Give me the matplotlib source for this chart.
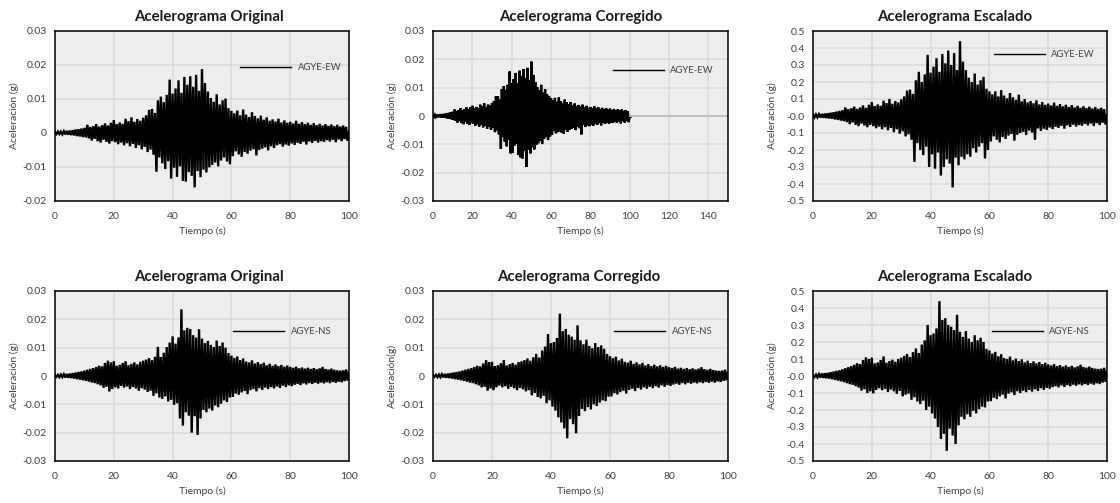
import numpy as np
import matplotlib
matplotlib.use("Agg")
import matplotlib.pyplot as plt
from matplotlib.ticker import FormatStrFormatter, FuncFormatter

plt.rcParams['font.family'] = ['Lato', 'DejaVu Sans']

# ---------------------------------------------------------------------------
# Data: peak acceleration per second (positive and negative excursions)
# Original / Corregido values in milli-g, Escalado values in g.
# ---------------------------------------------------------------------------
time_s = list(range(0, 101))

ew_original_pos_mg = [
    0.3, 0.4, 0.4, 0.5, 0.6, 0.7, 0.8, 1.0, 1.1, 1.3,
    1.5, 2.4, 1.8, 2.0, 2.6, 1.9, 2.3, 2.8, 2.2, 3.0,
    3.8, 2.6, 3.1, 2.7, 4.2, 3.5, 4.6, 3.3, 4.1, 3.6,
    4.5, 5.2, 6.8, 7.1, 5.9, 9.6, 10.7, 9.1, 11.2, 15.7,
    11.6, 13.1, 15.5, 11.8, 16.5, 14.2, 16.7, 13.6, 17.1, 12.4,
    18.8, 14.7, 12.2, 10.3, 9.2, 11.4, 8.4, 9.6, 10.1, 7.3,
    6.5, 5.8, 6.6, 5.2, 6.9, 5.4, 4.7, 6.1, 5.0, 4.3,
    5.1, 3.9, 4.6, 3.6, 4.0, 3.4, 4.2, 3.1, 3.7, 3.0,
    3.3, 2.8, 3.6, 2.7, 3.2, 2.6, 3.0, 2.4, 2.9, 2.3,
    2.7, 2.2, 2.6, 2.1, 2.5, 2.0, 2.4, 1.9, 2.2, 1.8,
    0.5]
ew_original_neg_mg = [
    -0.3, -0.3, -0.4, -0.4, -0.5, -0.6, -0.7, -0.9, -1.0, -1.2,
    -1.3, -1.6, -2.2, -1.7, -2.4, -2.8, -2.0, -2.6, -3.1, -2.4,
    -2.7, -3.3, -2.8, -3.6, -3.0, -3.9, -3.2, -4.4, -3.6, -4.8,
    -4.1, -5.6, -4.9, -6.4, -11.4, -7.2, -8.9, -10.6, -8.3, -13.4,
    -10.2, -12.9, -9.8, -14.1, -14.3, -11.5, -12.6, -16.0, -11.2, -13.0,
    -10.8, -11.6, -10.1, -9.4, -8.7, -9.8, -8.1, -7.2, -8.4, -9.2,
    -6.8, -5.4, -6.3, -7.0, -5.6, -6.1, -5.2, -4.8, -6.6, -5.0,
    -4.6, -4.2, -5.1, -3.9, -4.4, -3.6, -3.3, -4.0, -3.4, -3.7,
    -3.1, -3.5, -2.9, -3.2, -2.6, -3.4, -2.5, -2.9, -2.3, -2.8,
    -2.4, -2.6, -2.1, -2.5, -2.0, -2.7, -1.9, -2.4, -1.8, -2.3,
    -1.2]

ew_corregido_pos_mg = [
    0.3, 0.4, 0.4, 0.5, 0.6, 0.7, 0.8, 1.0, 1.1, 1.3,
    1.5, 2.3, 1.8, 2.1, 2.8, 2.0, 2.4, 3.0, 2.3, 3.1,
    3.6, 2.7, 3.2, 2.8, 4.0, 3.4, 4.5, 3.2, 4.0, 3.6,
    4.6, 5.3, 6.9, 7.0, 6.0, 9.5, 10.6, 9.2, 11.0, 15.7,
    11.5, 13.0, 15.2, 11.6, 16.0, 14.0, 16.5, 13.4, 17.0, 12.6,
    19.2, 14.5, 12.0, 10.2, 9.0, 11.0, 8.2, 9.4, 7.6, 7.0,
    6.3, 5.6, 6.4, 5.0, 6.5, 5.2, 4.6, 5.8, 4.8, 4.1,
    4.9, 3.8, 4.4, 3.5, 3.9, 3.3, 4.0, 3.0, 3.6, 2.9,
    3.2, 2.7, 3.4, 2.6, 3.1, 2.5, 2.9, 2.3, 2.8, 2.2,
    2.6, 2.1, 2.5, 2.0, 2.4, 1.9, 2.3, 1.8, 2.1, 1.7,
    0.2]
ew_corregido_neg_mg = [
    -0.3, -0.3, -0.4, -0.4, -0.5, -0.6, -0.7, -0.9, -1.0, -1.2,
    -1.4, -1.7, -2.3, -1.8, -2.5, -2.9, -2.1, -2.7, -3.2, -2.5,
    -2.8, -3.4, -2.9, -3.7, -3.1, -4.0, -3.3, -4.5, -3.7, -4.9,
    -4.2, -5.7, -5.0, -6.5, -11.6, -7.3, -9.0, -10.7, -8.4, -13.2,
    -12.9, -10.4, -9.9, -13.8, -14.6, -15.0, -12.4, -18.0, -11.8, -13.2,
    -11.0, -11.8, -10.2, -9.6, -8.8, -9.9, -8.1, -7.4, -8.5, -7.2,
    -6.6, -5.3, -6.1, -5.7, -5.4, -5.9, -6.2, -4.7, -5.6, -4.9,
    -4.5, -4.1, -5.0, -3.8, -4.3, -6.5, -3.2, -3.9, -3.3, -3.6,
    -3.0, -3.4, -2.8, -3.1, -2.5, -3.3, -2.4, -2.8, -2.2, -2.7,
    -2.3, -2.5, -2.0, -2.4, -1.9, -2.6, -1.8, -2.3, -1.7, -2.2,
    -0.3]
# corrected record padded with zeros up to 150 s
ew_corregido_pad_t = [100, 150]
ew_corregido_pad_g = [0.0, 0.0]

ew_escalado_pos_g = [
    0.008, 0.009, 0.010, 0.012, 0.014, 0.016, 0.019, 0.022, 0.026, 0.030,
    0.034, 0.050, 0.040, 0.045, 0.055, 0.042, 0.050, 0.062, 0.048, 0.066,
    0.082, 0.058, 0.068, 0.060, 0.090, 0.076, 0.100, 0.072, 0.088, 0.080,
    0.098, 0.115, 0.150, 0.155, 0.130, 0.210, 0.260, 0.200, 0.245, 0.360,
    0.255, 0.290, 0.340, 0.260, 0.365, 0.310, 0.385, 0.300, 0.370, 0.270,
    0.440, 0.320, 0.270, 0.225, 0.200, 0.250, 0.185, 0.210, 0.230, 0.160,
    0.145, 0.128, 0.145, 0.115, 0.152, 0.120, 0.104, 0.135, 0.110, 0.095,
    0.125, 0.086, 0.100, 0.080, 0.088, 0.075, 0.092, 0.068, 0.082, 0.066,
    0.073, 0.062, 0.079, 0.060, 0.070, 0.057, 0.066, 0.053, 0.064, 0.050,
    0.060, 0.048, 0.057, 0.046, 0.055, 0.044, 0.053, 0.042, 0.048, 0.040,
    0.010]
ew_escalado_neg_g = [
    -0.008, -0.008, -0.009, -0.010, -0.012, -0.014, -0.016, -0.020, -0.023, -0.027,
    -0.030, -0.036, -0.048, -0.038, -0.052, -0.060, -0.045, -0.056, -0.066, -0.052,
    -0.060, -0.072, -0.062, -0.078, -0.066, -0.084, -0.070, -0.095, -0.078, -0.104,
    -0.090, -0.120, -0.108, -0.140, -0.270, -0.160, -0.200, -0.230, -0.180, -0.300,
    -0.225, -0.310, -0.215, -0.350, -0.300, -0.255, -0.280, -0.420, -0.245, -0.290,
    -0.240, -0.255, -0.225, -0.240, -0.190, -0.215, -0.180, -0.160, -0.250, -0.200,
    -0.150, -0.120, -0.140, -0.155, -0.124, -0.135, -0.115, -0.106, -0.145, -0.110,
    -0.100, -0.093, -0.112, -0.086, -0.097, -0.140, -0.073, -0.088, -0.075, -0.082,
    -0.068, -0.077, -0.064, -0.070, -0.058, -0.075, -0.055, -0.064, -0.051, -0.062,
    -0.053, -0.057, -0.046, -0.055, -0.044, -0.059, -0.042, -0.053, -0.040, -0.050,
    -0.026]

ns_original_pos_mg = [
    0.3, 0.4, 0.5, 0.6, 0.7, 0.8, 1.0, 1.2, 1.4, 1.6,
    1.9, 2.2, 2.5, 2.8, 3.2, 3.6, 3.4, 4.6, 5.4, 4.8,
    5.2, 3.6, 3.9, 4.6, 5.2, 3.8, 4.3, 4.8, 4.1, 5.0,
    5.4, 5.8, 6.3, 5.6, 6.8, 10.3, 6.7, 8.2, 10.2, 11.8,
    14.0, 11.4, 13.6, 23.5, 16.1, 17.0, 16.6, 14.4, 13.6, 16.5,
    13.2, 11.6, 12.4, 11.0, 10.2, 12.5, 10.6, 11.8, 10.0, 8.1,
    7.2, 6.4, 6.9, 5.6, 6.2, 5.1, 4.8, 5.5, 4.4, 4.9,
    4.2, 4.7, 3.8, 4.3, 3.6, 4.1, 3.5, 3.9, 3.3, 3.7,
    3.2, 2.9, 3.3, 2.7, 3.0, 2.6, 2.9, 2.5, 2.8, 2.4,
    2.7, 3.2, 2.5, 2.3, 2.6, 2.2, 2.0, 1.9, 2.0, 2.3,
    1.5]
ns_original_neg_mg = [
    -0.3, -0.4, -0.4, -0.5, -0.6, -0.7, -0.9, -1.1, -1.3, -1.5,
    -1.7, -2.0, -2.3, -2.5, -2.9, -3.3, -4.2, -3.8, -5.5, -4.6,
    -4.0, -4.4, -3.5, -4.1, -3.7, -4.6, -3.9, -4.4, -5.2, -4.3,
    -4.8, -5.6, -5.2, -7.0, -6.1, -7.6, -8.1, -7.2, -9.0, -8.4,
    -10.2, -9.6, -15.0, -17.5, -12.8, -14.0, -20.0, -14.2, -20.8, -15.0,
    -12.0, -12.8, -11.5, -12.2, -10.4, -11.0, -9.8, -8.6, -9.2, -7.6,
    -7.4, -6.2, -6.6, -5.8, -5.3, -6.4, -5.0, -4.6, -5.4, -4.3,
    -4.9, -4.1, -4.6, -3.9, -4.4, -3.7, -4.2, -3.4, -3.9, -3.3,
    -3.6, -3.1, -2.8, -3.2, -2.6, -3.0, -2.5, -2.8, -2.4, -2.7,
    -2.3, -2.6, -2.2, -2.5, -2.1, -2.4, -2.0, -2.2, -1.8, -1.6,
    -0.8]

ns_corregido_pos_mg = [
    0.3, 0.4, 0.5, 0.6, 0.7, 0.8, 1.0, 1.2, 1.4, 1.6,
    1.9, 2.2, 2.5, 2.8, 3.2, 3.6, 3.4, 4.4, 5.6, 4.9,
    5.0, 3.5, 3.8, 4.5, 5.6, 3.7, 4.2, 4.6, 4.0, 4.9,
    5.2, 5.6, 6.2, 5.4, 6.6, 7.8, 6.5, 9.0, 10.4, 14.8,
    11.6, 12.0, 13.4, 22.0, 15.8, 16.6, 14.6, 13.9, 12.8, 17.9,
    12.6, 11.2, 12.8, 10.6, 9.8, 11.6, 10.2, 10.8, 9.6, 7.8,
    7.0, 6.3, 6.8, 5.5, 6.1, 5.0, 4.7, 5.4, 4.3, 4.8,
    4.1, 4.6, 3.7, 4.2, 3.5, 4.0, 3.4, 3.8, 3.2, 3.6,
    3.1, 2.8, 3.2, 2.6, 2.9, 2.5, 2.8, 2.4, 2.7, 2.3,
    2.6, 3.1, 2.4, 2.2, 2.5, 2.1, 1.9, 1.8, 1.9, 2.2,
    1.4]
ns_corregido_neg_mg = [
    -0.3, -0.4, -0.4, -0.5, -0.6, -0.7, -0.9, -1.1, -1.3, -1.5,
    -1.7, -2.0, -2.3, -2.5, -2.9, -3.3, -4.0, -3.8, -5.2, -4.4,
    -5.0, -4.0, -3.4, -4.0, -3.6, -4.5, -3.8, -4.3, -5.0, -4.2,
    -4.7, -5.4, -5.0, -6.8, -6.0, -7.4, -7.9, -7.0, -9.6, -8.6,
    -10.8, -12.2, -14.6, -16.4, -18.5, -22.0, -15.2, -17.0, -20.2, -14.1,
    -11.6, -12.4, -11.0, -11.8, -10.0, -10.6, -9.4, -8.6, -8.9, -7.3,
    -7.2, -6.1, -6.5, -5.7, -5.2, -6.2, -4.9, -4.5, -5.3, -4.2,
    -4.8, -4.0, -4.5, -3.8, -4.3, -3.6, -4.1, -3.3, -3.8, -3.2,
    -3.5, -3.0, -2.7, -3.1, -2.5, -2.9, -2.4, -2.7, -2.3, -2.6,
    -2.2, -2.5, -2.1, -2.4, -2.0, -2.3, -1.9, -2.1, -1.7, -1.5,
    -0.7]

ns_escalado_pos_g = [
    0.006, 0.008, 0.010, 0.015, 0.016, 0.018, 0.022, 0.026, 0.030, 0.034,
    0.040, 0.046, 0.052, 0.058, 0.066, 0.075, 0.070, 0.094, 0.110, 0.100,
    0.108, 0.074, 0.080, 0.094, 0.115, 0.078, 0.088, 0.096, 0.084, 0.100,
    0.108, 0.118, 0.130, 0.112, 0.140, 0.162, 0.135, 0.185, 0.210, 0.300,
    0.240, 0.250, 0.280, 0.440, 0.330, 0.340, 0.300, 0.290, 0.270, 0.360,
    0.260, 0.230, 0.265, 0.220, 0.200, 0.240, 0.210, 0.225, 0.200, 0.160,
    0.150, 0.132, 0.142, 0.116, 0.128, 0.106, 0.100, 0.114, 0.092, 0.102,
    0.088, 0.098, 0.080, 0.090, 0.076, 0.086, 0.074, 0.082, 0.070, 0.078,
    0.068, 0.062, 0.070, 0.058, 0.064, 0.055, 0.062, 0.053, 0.060, 0.051,
    0.057, 0.066, 0.053, 0.049, 0.055, 0.047, 0.043, 0.041, 0.043, 0.048,
    0.032]
ns_escalado_neg_g = [
    -0.006, -0.008, -0.009, -0.011, -0.013, -0.015, -0.019, -0.023, -0.027, -0.031,
    -0.036, -0.042, -0.048, -0.052, -0.060, -0.068, -0.086, -0.078, -0.100, -0.090,
    -0.102, -0.082, -0.072, -0.084, -0.076, -0.094, -0.080, -0.090, -0.105, -0.088,
    -0.120, -0.110, -0.104, -0.140, -0.125, -0.150, -0.165, -0.145, -0.200, -0.180,
    -0.220, -0.250, -0.300, -0.370, -0.340, -0.440, -0.310, -0.350, -0.400, -0.290,
    -0.240, -0.255, -0.225, -0.240, -0.205, -0.220, -0.195, -0.180, -0.185, -0.150,
    -0.148, -0.128, -0.136, -0.120, -0.110, -0.132, -0.104, -0.096, -0.112, -0.090,
    -0.100, -0.086, -0.095, -0.082, -0.092, -0.078, -0.088, -0.072, -0.082, -0.070,
    -0.075, -0.066, -0.060, -0.067, -0.055, -0.064, -0.053, -0.060, -0.051, -0.057,
    -0.049, -0.055, -0.047, -0.053, -0.045, -0.051, -0.043, -0.047, -0.039, -0.034,
    -0.018]

titles = ["Acelerograma Original", "Acelerograma Corregido", "Acelerograma Escalado"]
x_label = "Tiempo (s)"
y_labels = [["Aceleración (g)", "Aceleración (g)", "Aceleración (g)"],
            ["Aceleración (g)", "Aceleración(g)", "Aceleración (g)"]]
series_names = ["AGYE-EW", "AGYE-NS"]

# ---------------------------------------------------------------------------
# Styling
# ---------------------------------------------------------------------------
W, H = 1120, 503
FACE = "#EDEDED"
GRID = "#D9D9D9"
TXT = "#404040"

fig = plt.figure(figsize=(W / 100, H / 100), dpi=100)
fig.patch.set_facecolor("white")


def axes_px(x0, y_top, x1, y_bot):
    return fig.add_axes([x0 / W, 1 - y_bot / H, (x1 - x0) / W, (y_bot - y_top) / H])


def trace(pos, neg, scale=1.0):
    """Interleave per-second positive and negative peaks into one record."""
    t = np.asarray(time_s, dtype=float)
    xs = np.empty(2 * len(t))
    ys = np.empty(2 * len(t))
    xs[0::2] = t
    xs[1::2] = t + 0.5
    ys[0::2] = np.asarray(pos) * scale
    ys[1::2] = np.asarray(neg) * scale
    return xs, ys


def fmt_small(v, _):
    if abs(v) < 1e-12:
        return "0"
    return f"{v:.2f}"


panels = [
    # (row, col, box, pos, neg, scale, xmax, xstep, ylim, ystep, legend anchor, title x)
    (0, 0, (55, 31, 349, 201), ew_original_pos_mg, ew_original_neg_mg, 1e-3,
     100, 20, (-0.02, 0.03), 0.01, (0.629, 0.785), 0.524),
    (0, 1, (433, 31, 728, 201), ew_corregido_pos_mg, ew_corregido_neg_mg, 1e-3,
     150, 20, (-0.03, 0.03), 0.01, (0.609, 0.765), 0.50),
    (0, 2, (813, 31, 1107, 201), ew_escalado_pos_g, ew_escalado_neg_g, 1.0,
     100, 20, (-0.5, 0.5), 0.1, (0.614, 0.860), 0.483),
    (1, 0, (55, 291, 349, 461), ns_original_pos_mg, ns_original_neg_mg, 1e-3,
     100, 20, (-0.03, 0.03), 0.01, (0.607, 0.760), 0.524),
    (1, 1, (433, 291, 728, 461), ns_corregido_pos_mg, ns_corregido_neg_mg, 1e-3,
     100, 20, (-0.03, 0.03), 0.01, (0.614, 0.760), 0.495),
    (1, 2, (813, 291, 1107, 461), ns_escalado_pos_g, ns_escalado_neg_g, 1.0,
     100, 20, (-0.5, 0.5), 0.1, (0.608, 0.760), 0.483),
]

for (row, col, box, pos, neg, scale, xmax, xstep, ylim, ystep, leg_anchor, title_x) in panels:
    ax = axes_px(*box)
    ax.set_facecolor(FACE)
    ax.set_axisbelow(True)
    ax.grid(True, color=GRID, lw=1.1)

    xs, ys = trace(pos, neg, scale)
    ax.plot(xs, ys, color="black", lw=1.7, solid_joinstyle="miter",
            label=series_names[row])
    if row == 0 and col == 1:
        ax.plot(ew_corregido_pad_t, ew_corregido_pad_g, color="#BDBDBD", lw=1.3)

    ax.set_xlim(0, xmax)
    ax.set_xticks(np.arange(0, xmax + 0.1, xstep))
    ax.set_ylim(*ylim)
    ax.set_yticks(np.arange(ylim[0], ylim[1] + ystep / 2, ystep))
    if scale == 1.0:
        ax.yaxis.set_major_formatter(FormatStrFormatter("%.1f"))
    else:
        ax.yaxis.set_major_formatter(FuncFormatter(fmt_small))

    for sp in ax.spines.values():
        sp.set_color("black")
        sp.set_linewidth(1.1)
    ax.tick_params(length=0, labelsize=7.5, labelcolor=TXT, pad=6)
    ax.tick_params(axis="x", pad=8)

    ax.set_xlabel(x_label, fontsize=7.5, color=TXT, labelpad=4)
    ax.set_ylabel(y_labels[row][col], fontsize=7.5, color=TXT)
    ax.yaxis.set_label_coords(-0.122, 0.5)
    ax.set_title(titles[col], fontsize=10.8, fontweight="bold", color="#1a1a1a",
                 x=title_x, pad=7)

    leg = ax.legend(loc="center left", bbox_to_anchor=leg_anchor, frameon=False,
                    fontsize=6.8, handlelength=5.4, handletextpad=0.7,
                    borderaxespad=0, borderpad=0)
    for txt in leg.get_texts():
        txt.set_color(TXT)
    for ln in leg.get_lines():
        ln.set_linewidth(1.0)

fig.savefig("out.png", dpi=100, facecolor="white")
